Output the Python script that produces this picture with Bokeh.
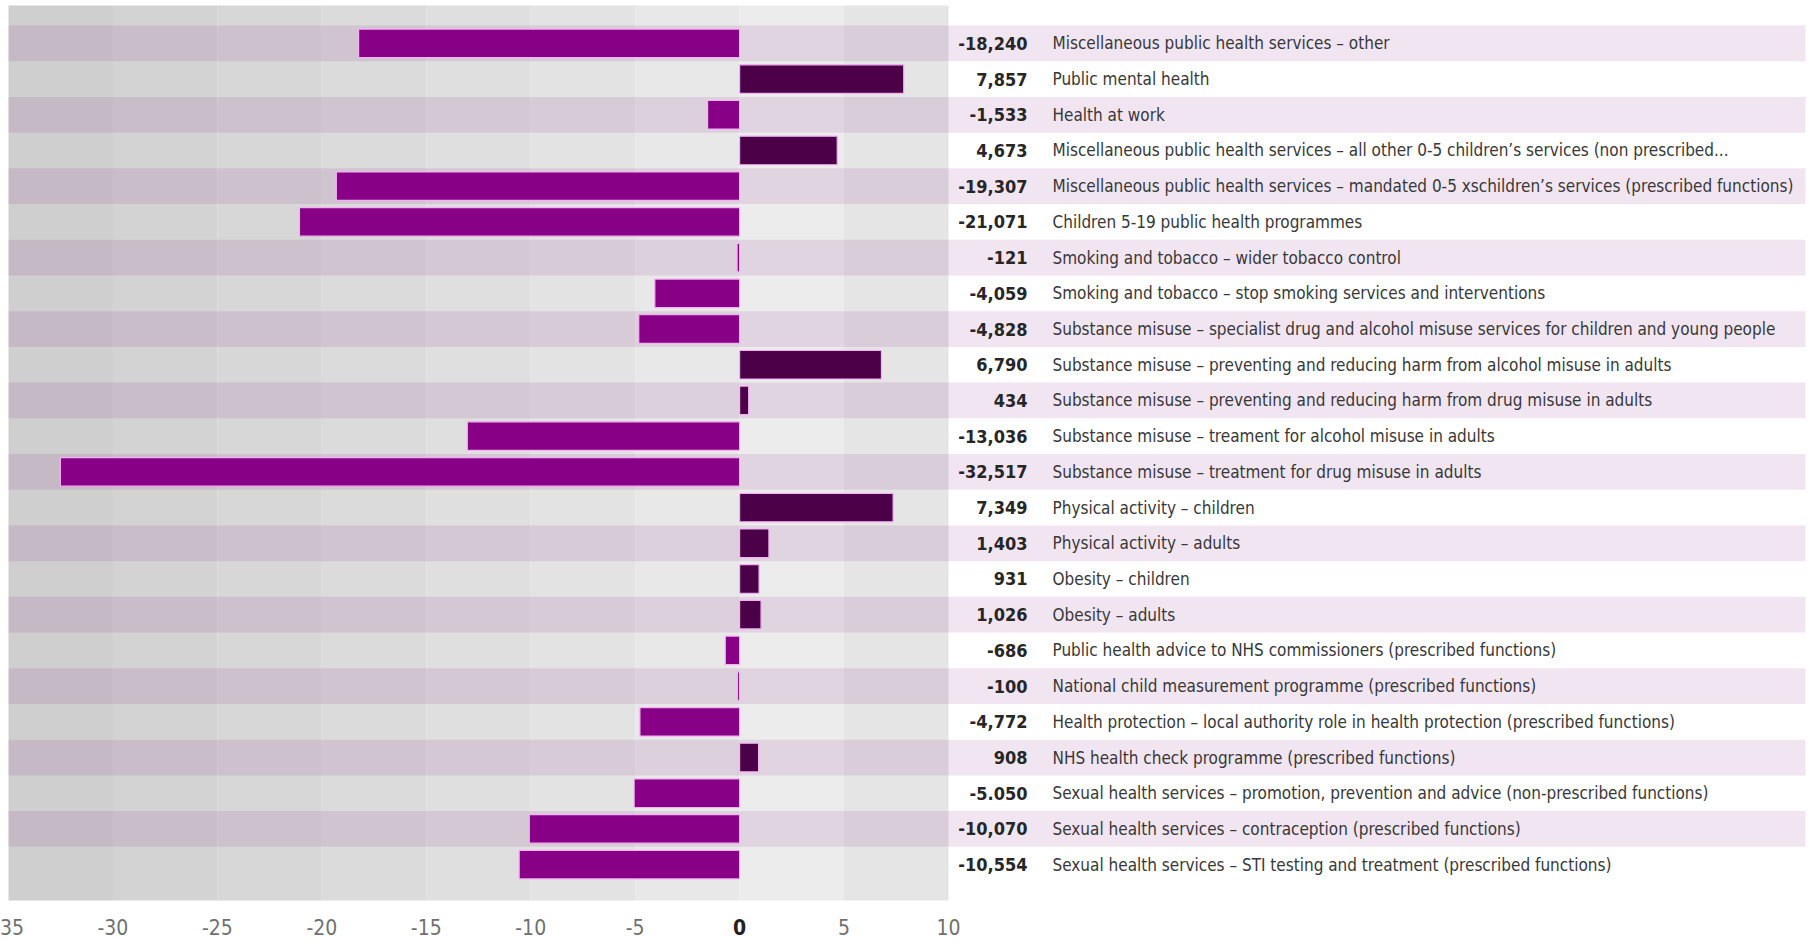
from bokeh.plotting import figure
from bokeh.models import Range1d, ColumnDataSource
from bokeh.core.properties import value
from bokeh.embed import file_html
from bokeh.resources import INLINE

# Public health spending change by service line (£ thousands)
categories = [
    "Miscellaneous public health services \u2013 other",
    "Public mental health",
    "Health at work",
    "Miscellaneous public health services \u2013 all other 0-5 children\u2019s services (non prescribed...",
    "Miscellaneous public health services \u2013 mandated 0-5 xschildren\u2019s services (prescribed functions)",
    "Children 5-19 public health programmes",
    "Smoking and tobacco \u2013 wider tobacco control",
    "Smoking and tobacco \u2013 stop smoking services and interventions",
    "Substance misuse \u2013 specialist drug and alcohol misuse services for children and young people",
    "Substance misuse \u2013 preventing and reducing harm from alcohol misuse in adults",
    "Substance misuse \u2013 preventing and reducing harm from drug misuse in adults",
    "Substance misuse \u2013 treament for alcohol misuse in adults",
    "Substance misuse \u2013 treatment for drug misuse in adults",
    "Physical activity \u2013 children",
    "Physical activity \u2013 adults",
    "Obesity \u2013 children",
    "Obesity \u2013 adults",
    "Public health advice to NHS commissioners (prescribed functions)",
    "National child measurement programme (prescribed functions)",
    "Health protection \u2013 local authority role in health protection (prescribed functions)",
    "NHS health check programme (prescribed functions)",
    "Sexual health services \u2013 promotion, prevention and advice (non-prescribed functions)",
    "Sexual health services \u2013 contraception (prescribed functions)",
    "Sexual health services \u2013 STI testing and treatment (prescribed functions)",
]
values = [
    -18240, 7857, -1533, 4673, -19307, -21071, -121, -4059, -4828, 6790,
    434, -13036, -32517, 7349, 1403, 931, 1026, -686, -100, -4772,
    908, -5050, -10070, -10554,
]
value_text = [
    "-18,240", "7,857", "-1,533", "4,673", "-19,307", "-21,071", "-121",
    "-4,059", "-4,828", "6,790", "434", "-13,036", "-32,517", "7,349",
    "1,403", "931", "1,026", "-686", "-100", "-4,772", "908", "-5.050",
    "-10,070", "-10,554",
]
x_ticks = [-35, -30, -25, -20, -15, -10, -5, 0, 5, 10]

FONT = "'Liberation Sans Narrow', 'Arial Narrow', 'DejaVu Sans Condensed', sans-serif"

W, H = 1814, 941
n = len(categories)
x_min, x_max = x_ticks[0], x_ticks[-1]

# pixel layout of the canvas
BAR_LEFT, BAR_RIGHT, PANEL_RIGHT = 8, 948, 1805   # bar area and label panel
TOP, BOTTOM = 5, 900                               # shaded bar area
ROWS_TOP, ROWS_BOTTOM = 25, 882                    # first row top, last row bottom
TICK_MID = 926                                     # centre line of tick labels

px_x = (BAR_RIGHT - BAR_LEFT) / (x_max - x_min)    # pixels per £m
px_y = (ROWS_BOTTOM - ROWS_TOP) / n                # pixels per row


def row_at(py):
    """Row coordinate for a vertical pixel position."""
    return -0.5 + (py - ROWS_TOP) / px_y


x_lo = x_min - BAR_LEFT / px_x
x_hi = x_lo + W / px_x
panel_end = x_max + (PANEL_RIGHT - BAR_RIGHT) / px_x

p = figure(
    width=W, height=H,
    x_range=Range1d(x_lo, x_hi), y_range=Range1d(row_at(H), row_at(0)),
    output_backend="svg", toolbar_location=None,
    min_border=0,
)
p.background_fill_color = "white"
p.border_fill_color = "white"
p.outline_line_color = None
p.axis.visible = False
p.grid.visible = False

# shaded columns behind the bars, darker towards the left
col_fill = ["#cfcfcf", "#d3d3d3", "#d7d7d7", "#dbdbdb", "#dfdfdf",
            "#e3e3e3", "#e8e8e8", "#ececec", "#e5e5e5"]
p.quad(left=x_ticks[:-1], right=x_ticks[1:], bottom=row_at(BOTTOM), top=row_at(TOP),
       fill_color=col_fill, line_color=None)

# alternate row tint across the bars and the label panel
rows = list(range(0, n, 2))
p.quad(left=x_min, right=panel_end,
       top=[r - 0.5 for r in rows], bottom=[r + 0.5 for r in rows],
       fill_color="#800080", fill_alpha=0.1, line_color=None)

vals_k = [v / 1000 for v in values]
src = ColumnDataSource(dict(
    y=list(range(n)),
    left=[min(0, v) for v in vals_k],
    right=[max(0, v) for v in vals_k],
    color=["#870085" if v < 0 else "#4b0048" for v in vals_k],
    cat=categories,
    vt=value_text,
))
p.hbar(y="y", left="left", right="right", height=0.8, source=src,
       fill_color="color", line_color="#f2b2f2", line_width=1.2)

# value and category labels in the right-hand panel
p.text(x=x_max + 79 / px_x, y="y", text="vt", source=src,
       text_font=value(FONT), text_font_size="18px", text_font_style="bold",
       text_color="#262626", text_align="right", text_baseline="middle")
p.text(x=x_max + 104 / px_x, y="y", text="cat", source=src,
       text_font=value(FONT), text_font_size="17px",
       text_color="#383838", text_align="left", text_baseline="middle")

# x tick labels under the bar area; zero is emphasised
tick_src = ColumnDataSource(dict(
    x=x_ticks,
    label=[str(t) for t in x_ticks],
    style=["bold" if t == 0 else "normal" for t in x_ticks],
    color=["#222222" if t == 0 else "#707070" for t in x_ticks],
))
p.text(x="x", y=row_at(TICK_MID), text="label", source=tick_src,
       text_font=value(FONT), text_font_size="21px", text_font_style="style",
       text_color="color", text_align="center", text_baseline="middle")

open("out.html", "w").write(file_html(p, INLINE))
